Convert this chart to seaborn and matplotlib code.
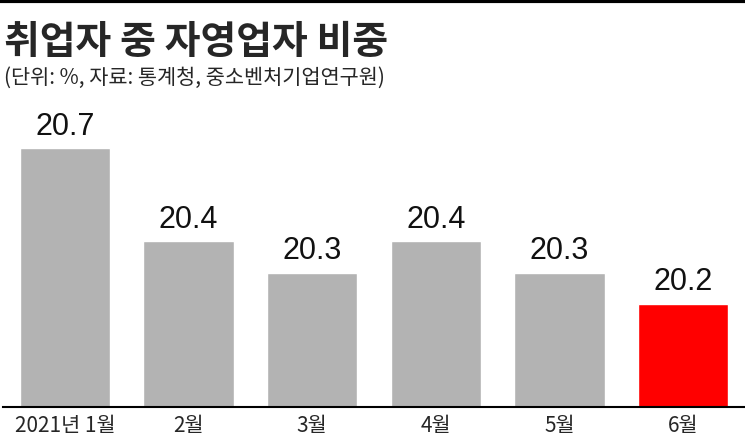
import matplotlib
matplotlib.use("Agg")
import matplotlib.pyplot as plt
import seaborn as sns
import pandas as pd

months = ["2021년 1월", "2월", "3월", "4월", "5월", "6월"]
share = [20.7, 20.4, 20.3, 20.4, 20.3, 20.2]
colors = ["#b3b3b3"] * 5 + ["#ff0000"]

sns.set_style("white")
plt.rcParams['font.family'] = ['Noto Sans CJK KR', 'DejaVu Sans']

df = pd.DataFrame({"month": months, "share": share})
fig = plt.figure(figsize=(7.45, 4.43), dpi=100)
ax = fig.add_axes([0.004, 0.081, 0.996, 0.693])
sns.barplot(data=df, x="month", y="share", hue="month", palette=colors,
            width=0.73, saturation=1, legend=False, ax=ax)
ax.set_ylim(19.867, 20.855)
ax.set_xlim(-0.5, 5.5)
for i, v in enumerate(share):
    ax.text(i, v + 0.02, f"{v}", ha="center", va="bottom", fontsize=22,
            family="Liberation Sans", color="#111111")
ax.set_yticks([])
ax.set_xlabel("")
ax.set_ylabel("")
ax.tick_params(axis="x", length=0, labelsize=15, pad=6)
for s in ["left", "right", "top"]:
    ax.spines[s].set_visible(False)
ax.spines["bottom"].set_color("black")
ax.spines["bottom"].set_linewidth(1.5)

fig.text(0.005, 0.905, "취업자 중 자영업자 비중", fontsize=28, fontweight="bold", va="center")
fig.text(0.005, 0.825, "(단위: %, 자료: 통계청, 중소벤처기업연구원)", fontsize=15, va="center")
fig.add_artist(plt.Line2D([0, 1], [0.997, 0.997], color="black", lw=3, transform=fig.transFigure))

fig.savefig("out.png", dpi=100)
